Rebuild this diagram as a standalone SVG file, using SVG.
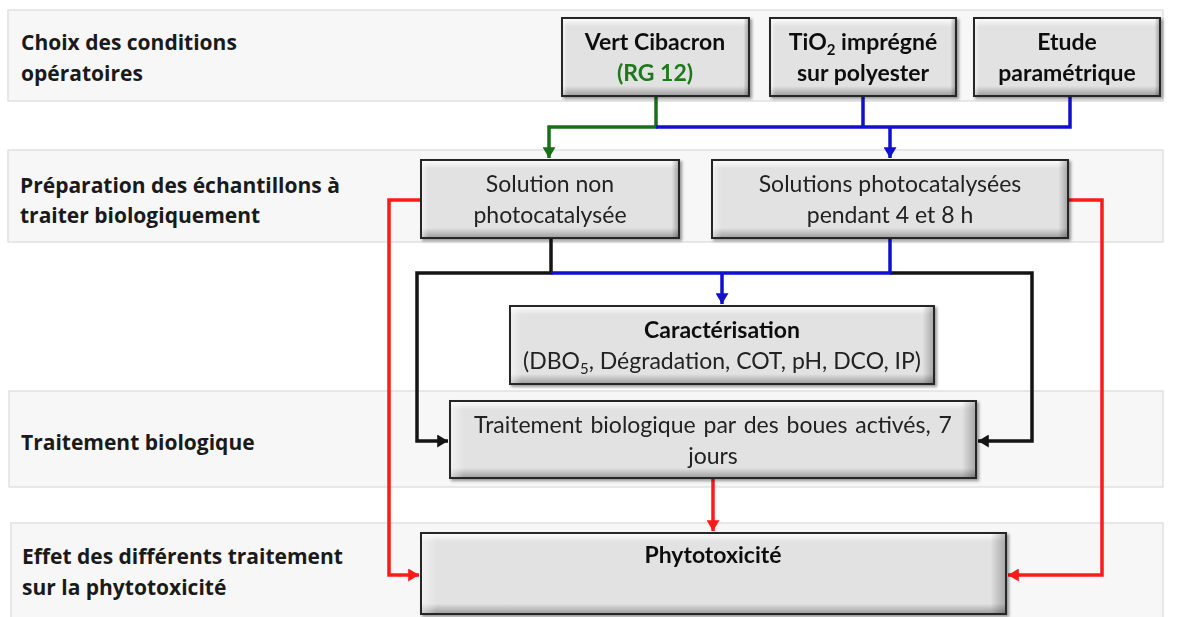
<svg xmlns="http://www.w3.org/2000/svg" width="1179" height="617" viewBox="0 0 1179 617">
<style>
.band{fill:#f7f7f7;stroke:#dadada;stroke-width:1.2}
.lbl{font-family:"Open Sans","Liberation Sans",sans-serif;font-weight:bold;font-size:21px;fill:#1a1a1a}
.bx{fill:#e2e2e2;stroke:#262626;stroke-width:2}
.bv{fill:url(#gv)}
.bh{fill:url(#gh)}
.t{font-family:Lato,"Liberation Sans",sans-serif;font-size:23px;fill:#222;text-anchor:middle}
.b{font-weight:bold;fill:#111}
.c{fill:none;stroke-width:3.5;stroke-linejoin:miter}
.g{stroke:#1a6e1a}.u{stroke:#1010d0}.r{stroke:#ff1a1a}.k{stroke:#141414}
</style>
<defs>
<linearGradient id="gv" x1="0" y1="0" x2="0" y2="1">
<stop offset="0" stop-color="#fff" stop-opacity="0.85"/>
<stop offset="0.1" stop-color="#fff" stop-opacity="0"/>
<stop offset="0.88" stop-color="#000" stop-opacity="0"/>
<stop offset="1" stop-color="#000" stop-opacity="0.28"/>
</linearGradient>
<linearGradient id="gh" x1="0" y1="0" x2="1" y2="0">
<stop offset="0" stop-color="#fff" stop-opacity="0.5"/>
<stop offset="0.025" stop-color="#fff" stop-opacity="0"/>
<stop offset="0.975" stop-color="#000" stop-opacity="0"/>
<stop offset="1" stop-color="#000" stop-opacity="0.25"/>
</linearGradient>
<filter id="sh" x="-5%" y="-10%" width="115%" height="130%">
<feDropShadow dx="2" dy="2" stdDeviation="1.5" flood-color="#000" flood-opacity="0.4"/>
</filter>
<marker id="ag" viewBox="0 0 10 12" markerWidth="11" markerHeight="13" refX="10" refY="6" orient="auto" markerUnits="userSpaceOnUse"><path d="M0,0L10,6L0,12z" fill="#1a6e1a"/></marker>
<marker id="au" viewBox="0 0 10 12" markerWidth="11" markerHeight="13" refX="10" refY="6" orient="auto" markerUnits="userSpaceOnUse"><path d="M0,0L10,6L0,12z" fill="#1010d0"/></marker>
<marker id="ar" viewBox="0 0 10 12" markerWidth="11" markerHeight="13" refX="10" refY="6" orient="auto" markerUnits="userSpaceOnUse"><path d="M0,0L10,6L0,12z" fill="#ff1a1a"/></marker>
<marker id="ak" viewBox="0 0 10 12" markerWidth="11" markerHeight="13" refX="10" refY="6" orient="auto" markerUnits="userSpaceOnUse"><path d="M0,0L10,6L0,12z" fill="#141414"/></marker>
</defs>
<rect width="1179" height="617" fill="#fff"/>
<g id="bands">
<rect class="band" x="8" y="10" width="1155" height="91"/>
<rect class="band" x="8" y="150" width="1155" height="92"/>
<rect class="band" x="9" y="391" width="1154" height="96"/>
<rect class="band" x="11" y="523" width="1152" height="100"/>
<text class="lbl" x="21" y="50">Choix des conditions</text>
<text class="lbl" x="21" y="81">opératoires</text>
<text class="lbl" x="20" y="193">Préparation des échantillons à</text>
<text class="lbl" x="20" y="223">traiter biologiquement</text>
<text class="lbl" x="21" y="450">Traitement biologique</text>
<text class="lbl" x="22" y="564">Effet des différents traitement</text>
<text class="lbl" x="22" y="595">sur la phytotoxicité</text>
</g>
<g id="connectors">
<path class="c g" d="M656,96V127H549V158" marker-end="url(#ag)"/>
<path class="c u" d="M656,127H1070V96M863,96V127"/>
<path class="c u" d="M890,127V158" marker-end="url(#au)"/>
<path class="c r" d="M421,200H389V575H419" marker-end="url(#ar)"/>
<path class="c r" d="M1068,200H1102V575H1008" marker-end="url(#ar)"/>
<path class="c r" d="M713,478V531" marker-end="url(#ar)"/>
<path class="c k" d="M551,238V273H417V441H448" marker-end="url(#ak)"/>
<path class="c k" d="M890,273H1032V441H978" marker-end="url(#ak)"/>
<path class="c u" d="M551,273H890V238"/>
<path class="c u" d="M722,273V304" marker-end="url(#au)"/>
</g>
<g id="n-vert" filter="url(#sh)">
<rect class="bx" x="562" y="18" width="187" height="78"/><rect class="bv" x="563" y="19" width="185" height="76"/><rect class="bh" x="563" y="19" width="185" height="76"/>
<text class="t b" x="655" y="50">Vert Cibacron</text>
<text class="t b" x="655" y="81" style="fill:#1e7a1e">(RG 12)</text>
</g>
<g id="n-tio2" filter="url(#sh)">
<rect class="bx" x="770" y="18" width="186" height="78"/><rect class="bv" x="771" y="19" width="184" height="76"/><rect class="bh" x="771" y="19" width="184" height="76"/>
<text class="t b" x="863" y="50">TiO<tspan font-size="15" dy="5">2</tspan><tspan dy="-5"> imprégné</tspan></text>
<text class="t b" x="863" y="81">sur polyester</text>
</g>
<g id="n-etude" filter="url(#sh)">
<rect class="bx" x="974" y="18" width="186" height="78"/><rect class="bv" x="975" y="19" width="184" height="76"/><rect class="bh" x="975" y="19" width="184" height="76"/>
<text class="t b" x="1067" y="50">Etude</text>
<text class="t b" x="1067" y="81">paramétrique</text>
</g>
<g id="n-non" filter="url(#sh)">
<rect class="bx" x="421" y="160" width="258" height="78"/><rect class="bv" x="422" y="161" width="256" height="76"/><rect class="bh" x="422" y="161" width="256" height="76"/>
<text class="t" x="550" y="192">Solution non</text>
<text class="t" x="550" y="223">photocatalysée</text>
</g>
<g id="n-photo" filter="url(#sh)">
<rect class="bx" x="712" y="160" width="356" height="78"/><rect class="bv" x="713" y="161" width="354" height="76"/><rect class="bh" x="713" y="161" width="354" height="76"/>
<text class="t" x="890" y="192">Solutions photocatalysées</text>
<text class="t" x="890" y="223">pendant 4 et 8 h</text>
</g>
<g id="n-carac" filter="url(#sh)">
<rect class="bx" x="510" y="306" width="424" height="78"/><rect class="bv" x="511" y="307" width="422" height="76"/><rect class="bh" x="511" y="307" width="422" height="76"/>
<text class="t b" x="722" y="338">Caractérisation</text>
<text class="t" x="722" y="369">(DBO<tspan font-size="15" dy="5">5</tspan><tspan dy="-5">, Dégradation, COT, pH, DCO, IP)</tspan></text>
</g>
<g id="n-trait" filter="url(#sh)">
<rect class="bx" x="450" y="401" width="526" height="77"/><rect class="bv" x="451" y="402" width="524" height="75"/><rect class="bh" x="451" y="402" width="524" height="75"/>
<text class="t" x="713" y="433" word-spacing="2">Traitement biologique par des boues activés, 7</text>
<text class="t" x="713" y="464">jours</text>
</g>
<g id="n-phyto" filter="url(#sh)">
<rect class="bx" x="421" y="533" width="585" height="81"/><rect class="bv" x="422" y="534" width="583" height="79"/><rect class="bh" x="422" y="534" width="583" height="79"/>
<text class="t b" x="713" y="563">Phytotoxicité</text>
</g>
</svg>
